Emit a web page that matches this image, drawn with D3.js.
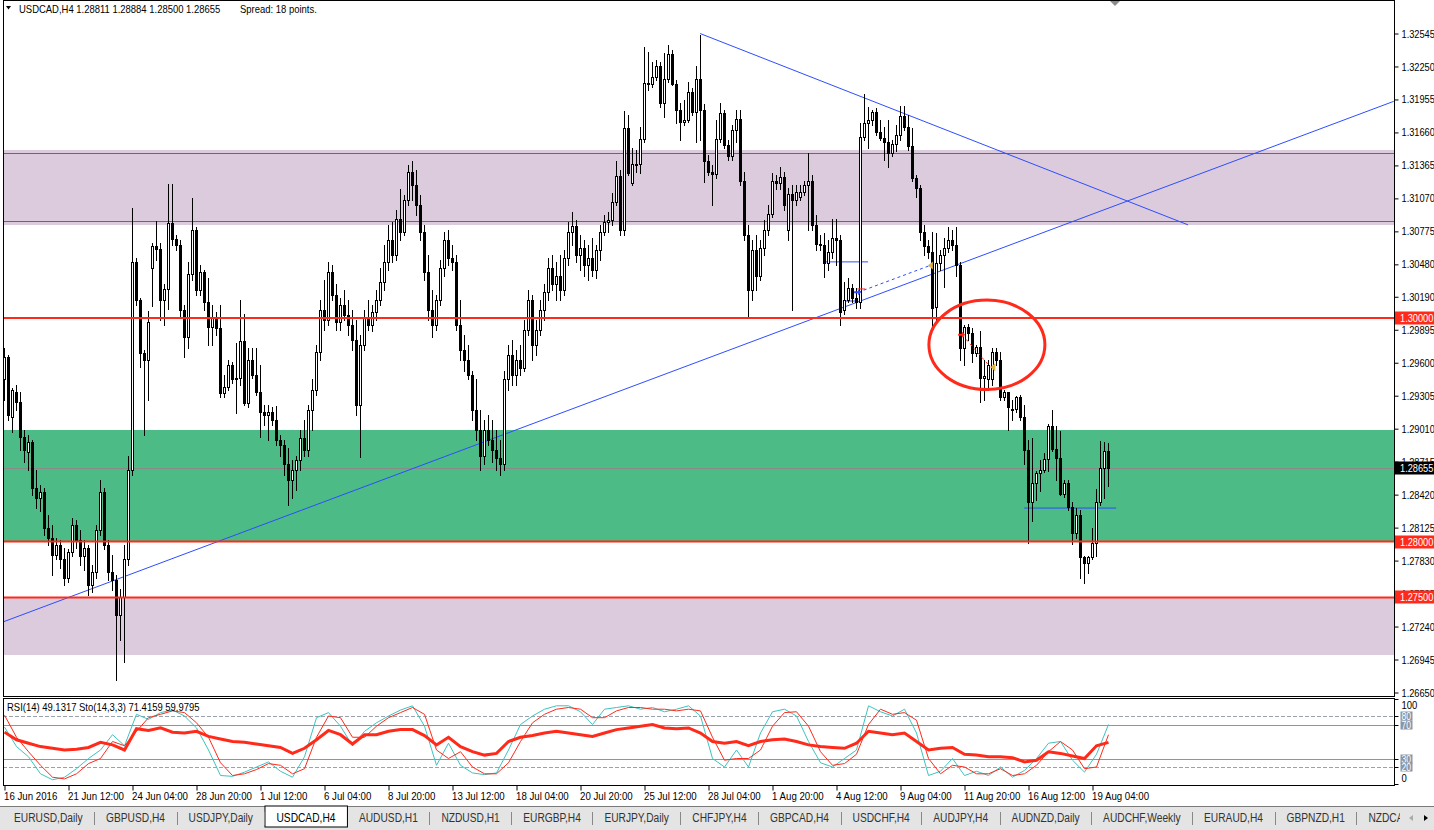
<!DOCTYPE html>
<html>
<head>
<meta charset="utf-8">
<script src="https://cdn.jsdelivr.net/npm/d3@7"></script>
<style>
html, body { margin: 0; padding: 0; background: #fff; overflow: hidden; }
svg { display: block; font-family: "Liberation Sans", Arial, sans-serif; }
</style>
</head>
<body>
<svg id="chart" width="1434" height="830"></svg>
<script>
// USDCAD H4 candles, 16 Jun 2016 20:00 .. 19 Aug 2016 20:00
const opens = [1.2945,1.2965,1.2911,1.2934,1.2925,1.2894,1.2880,1.2889,1.2848,1.2839,1.2844,1.2812,1.2803,1.2788,1.2797,1.2784,1.2767,1.2791,1.2815,1.2801,
1.2787,1.2794,1.2761,1.2773,1.2810,1.2844,1.2797,1.2773,1.2766,1.2734,1.2750,1.2784,1.2864,1.3050,1.3016,1.2969,1.2962,1.3045,1.3064,1.3062,
1.3016,1.3026,1.3085,1.3071,1.3065,1.3007,1.2983,1.3039,1.3079,1.3025,1.3041,1.3014,1.2992,1.3000,1.2991,1.2933,1.2938,1.2958,1.2945,1.2946,
1.2979,1.2924,1.2962,1.2949,1.2934,1.2916,1.2913,1.2916,1.2909,1.2891,1.2886,1.2869,1.2855,1.2864,1.2873,1.2893,1.2882,1.2918,1.2936,1.2970,
1.3007,1.2998,1.3041,1.3021,1.2996,1.3012,1.3003,1.2994,1.2980,1.2922,1.2976,1.3000,1.2994,1.3005,1.3016,1.3032,1.3050,1.3070,1.3056,1.3089,
1.3077,1.3106,1.3131,1.3119,1.3101,1.3077,1.3041,1.3007,1.2994,1.3016,1.3045,1.3070,1.3054,1.3050,1.2994,1.2971,1.2962,1.2949,1.2918,1.2900,
1.2877,1.2900,1.2891,1.2882,1.2875,1.2869,1.2945,1.2967,1.2949,1.2962,1.2955,1.2989,1.3016,1.2976,1.2989,1.3007,1.3023,1.3045,1.3030,1.3038,
1.3025,1.3054,1.3077,1.3082,1.3056,1.3063,1.3047,1.3054,1.3043,1.3061,1.3077,1.3086,1.3088,1.3104,1.3127,1.3079,1.3170,1.3121,1.3138,1.3138,
1.3160,1.3210,1.3209,1.3216,1.3225,1.3192,1.3214,1.3236,1.3209,1.3186,1.3175,1.3177,1.3202,1.3184,1.3214,1.3186,1.3140,1.3131,1.3129,1.3160,
1.3183,1.3155,1.3145,1.3168,1.3178,1.3123,1.3074,1.3025,1.3061,1.3038,1.3063,1.3079,1.3093,1.3123,1.3121,1.3126,1.3079,1.3111,1.3106,1.3108,
1.3113,1.3119,1.3123,1.3083,1.3066,1.3065,1.3049,1.3059,1.3072,1.3070,1.3007,1.3016,1.3027,1.3018,1.3014,1.3162,1.3174,1.3177,1.3184,1.3166,
1.3161,1.3157,1.3148,1.3156,1.3164,1.3181,1.3171,1.3154,1.3125,1.3116,1.3077,1.3064,1.3059,1.3010,1.3049,1.3056,1.3063,1.3070,1.3065,1.3047,
1.2973,1.2992,1.2987,1.2969,1.2974,1.2946,1.2945,1.2945,1.2970,1.2962,1.2929,1.2934,1.2918,1.2919,1.2929,1.2911,1.2882,1.2835,1.2852,1.2861,
1.2864,1.2874,1.2903,1.2883,1.2875,1.2843,1.2852,1.2831,1.2808,1.2824,1.2786,1.2781,1.2786,1.2799,1.2835,1.2866,1.28811];
const highs = [1.2973,1.2967,1.2937,1.2940,1.2934,1.2900,1.2895,1.2891,1.2864,1.2851,1.2848,1.2824,1.2815,1.2803,1.2801,1.2794,1.2793,1.2821,1.2819,1.2810,
1.2801,1.2797,1.2779,1.2815,1.2855,1.2848,1.2801,1.2788,1.2770,1.2758,1.2797,1.2877,1.3098,1.3054,1.3018,1.2971,1.3006,1.3067,1.3087,1.3067,
1.3030,1.3120,1.3120,1.3074,1.3070,1.3012,1.3050,1.3107,1.3081,1.3047,1.3043,1.3036,1.3012,1.3005,1.3012,1.2949,1.2962,1.2961,1.2978,1.3016,
1.3004,1.2973,1.2973,1.2973,1.2958,1.2922,1.2922,1.2920,1.2921,1.2895,1.2891,1.2884,1.2873,1.2877,1.2900,1.2909,1.2922,1.2945,1.2976,1.3016,
1.3034,1.3050,1.3047,1.3030,1.3018,1.3025,1.3016,1.3007,1.2998,1.2985,1.3007,1.3016,1.3012,1.3025,1.3045,1.3065,1.3083,1.3086,1.3097,1.3115,
1.3110,1.3137,1.3140,1.3132,1.3110,1.3083,1.3056,1.3025,1.3021,1.3052,1.3077,1.3079,1.3065,1.3056,1.3016,1.2985,1.2976,1.2953,1.2945,1.2918,
1.2909,1.2913,1.2909,1.2900,1.2891,1.2953,1.2976,1.2980,1.2971,1.2976,1.2998,1.3025,1.3021,1.2998,1.3016,1.3030,1.3054,1.3056,1.3050,1.3056,
1.3061,1.3086,1.3095,1.3088,1.3074,1.3070,1.3065,1.3072,1.3065,1.3083,1.3092,1.3095,1.3112,1.3140,1.3132,1.3185,1.3182,1.3152,1.3150,1.3171,
1.3242,1.3238,1.3229,1.3231,1.3229,1.3237,1.3244,1.3240,1.3213,1.3192,1.3195,1.3211,1.3206,1.3225,1.3253,1.3191,1.3146,1.3137,1.3177,1.3192,
1.3186,1.3159,1.3173,1.3186,1.3186,1.3131,1.3083,1.3070,1.3074,1.3070,1.3088,1.3101,1.3130,1.3128,1.3135,1.3131,1.3116,1.3119,1.3119,1.3119,
1.3123,1.3148,1.3128,1.3092,1.3074,1.3076,1.3070,1.3089,1.3089,1.3074,1.3032,1.3036,1.3030,1.3027,1.3174,1.3200,1.3189,1.3186,1.3188,1.3177,
1.3171,1.3177,1.3159,1.3173,1.3190,1.3190,1.3182,1.3170,1.3128,1.3119,1.3083,1.3070,1.3077,1.3076,1.3061,1.3072,1.3081,1.3079,1.3081,1.3050,
1.2994,1.2995,1.2991,1.2976,1.2988,1.2962,1.2962,1.2973,1.2973,1.2970,1.2936,1.2934,1.2927,1.2930,1.2931,1.2922,1.2891,1.2893,1.2863,1.2873,
1.2879,1.2905,1.2918,1.2903,1.2899,1.2855,1.2855,1.2835,1.2830,1.2828,1.2787,1.2787,1.2812,1.2847,1.2890,1.2889,1.28884];
const lows = [1.2927,1.2909,1.2898,1.2918,1.2882,1.2871,1.2864,1.2842,1.2830,1.2827,1.2806,1.2797,1.2770,1.2784,1.2776,1.2761,1.2764,1.2787,1.2794,1.2779,
1.2775,1.2752,1.2755,1.2767,1.2806,1.2793,1.2766,1.2757,1.2676,1.2712,1.2692,1.2779,1.2860,1.3012,1.2956,1.2895,1.2927,1.3011,1.3052,1.2998,
1.2994,1.3008,1.3065,1.3061,1.3001,1.2965,1.2973,1.3034,1.3021,1.3021,1.3007,1.2976,1.2976,1.2985,1.2929,1.2929,1.2936,1.2942,1.2915,1.2940,
1.2922,1.2920,1.2946,1.2931,1.2894,1.2904,1.2891,1.2904,1.2886,1.2877,1.2860,1.2833,1.2839,1.2846,1.2864,1.2877,1.2877,1.2900,1.2931,1.2962,
1.2989,1.2994,1.3016,1.2989,1.2989,1.2998,1.2985,1.2971,1.2913,1.2876,1.2971,1.2989,1.2988,1.2998,1.3012,1.3025,1.3043,1.3050,1.3052,1.3070,
1.3074,1.3101,1.3106,1.3092,1.3070,1.3034,1.2998,1.2983,1.2989,1.3012,1.3038,1.3047,1.3043,1.2989,1.2962,1.2953,1.2945,1.2909,1.2891,1.2864,
1.2869,1.2886,1.2871,1.2864,1.2860,1.2864,1.2936,1.2940,1.2940,1.2949,1.2953,1.2985,1.2962,1.2967,1.2985,1.2998,1.3016,1.3025,1.3016,1.3016,
1.3021,1.3047,1.3065,1.3050,1.3043,1.3038,1.3034,1.3038,1.3036,1.3052,1.3074,1.3077,1.3083,1.3101,1.3074,1.3074,1.3128,1.3119,1.3131,1.3130,
1.3157,1.3204,1.3207,1.3213,1.3189,1.3180,1.3211,1.3208,1.3174,1.3159,1.3173,1.3175,1.3182,1.3157,1.3159,1.3122,1.3128,1.3101,1.3125,1.3157,
1.3152,1.3141,1.3141,1.3157,1.3119,1.3070,1.3001,1.3016,1.3025,1.3034,1.3056,1.3074,1.3090,1.3115,1.3115,1.3097,1.3070,1.3007,1.3101,1.3106,
1.3110,1.3079,1.3079,1.3061,1.3061,1.3037,1.3043,1.3054,1.3047,1.2994,1.3004,1.3014,1.3014,1.3009,1.3009,1.3159,1.3152,1.3173,1.3164,1.3159,
1.3141,1.3135,1.3145,1.3149,1.3159,1.3168,1.3150,1.3123,1.3108,1.3070,1.3056,1.3054,1.2989,1.2998,1.3043,1.3028,1.3059,1.3061,1.3038,1.2962,
1.2958,1.2980,1.2961,1.2966,1.2925,1.2927,1.2936,1.2940,1.2958,1.2927,1.2927,1.2900,1.2909,1.2916,1.2909,1.2869,1.2799,1.2818,1.2837,1.2845,
1.2862,1.2863,1.2881,1.2855,1.2842,1.2840,1.2828,1.2798,1.2803,1.2767,1.2763,1.2772,1.2784,1.2787,1.2833,1.2839,1.28500];
const closes = [1.2965,1.2913,1.2936,1.2925,1.2894,1.2882,1.2889,1.2848,1.2839,1.2844,1.2812,1.2803,1.2788,1.2797,1.2784,1.2767,1.2791,1.2815,1.2801,1.2787,
1.2794,1.2761,1.2773,1.2810,1.2844,1.2797,1.2773,1.2766,1.2734,1.2750,1.2784,1.2864,1.3050,1.3016,1.2969,1.2962,1.2996,1.3064,1.3062,1.3016,
1.3026,1.3085,1.3071,1.3065,1.3007,1.2983,1.3039,1.3079,1.3025,1.3041,1.3014,1.2992,1.3000,1.2991,1.2933,1.2938,1.2958,1.2945,1.2946,1.2979,
1.2924,1.2962,1.2949,1.2934,1.2916,1.2913,1.2916,1.2909,1.2891,1.2886,1.2869,1.2855,1.2864,1.2873,1.2893,1.2882,1.2918,1.2936,1.2970,1.3007,
1.2998,1.3041,1.3021,1.2996,1.3012,1.3003,1.2994,1.2980,1.2922,1.2976,1.3000,1.2994,1.3005,1.3016,1.3032,1.3050,1.3070,1.3056,1.3089,1.3077,
1.3106,1.3131,1.3119,1.3101,1.3077,1.3041,1.3007,1.2994,1.3016,1.3045,1.3070,1.3054,1.3050,1.2994,1.2971,1.2962,1.2949,1.2918,1.2900,1.2877,
1.2900,1.2891,1.2882,1.2875,1.2869,1.2945,1.2967,1.2949,1.2962,1.2955,1.2989,1.3016,1.2976,1.2989,1.3007,1.3023,1.3045,1.3030,1.3038,1.3025,
1.3054,1.3077,1.3082,1.3056,1.3063,1.3047,1.3054,1.3043,1.3061,1.3077,1.3086,1.3088,1.3104,1.3127,1.3079,1.3170,1.3130,1.3138,1.3137,1.3160,
1.3210,1.3209,1.3216,1.3225,1.3192,1.3214,1.3236,1.3209,1.3186,1.3175,1.3177,1.3202,1.3184,1.3214,1.3186,1.3140,1.3131,1.3129,1.3160,1.3183,
1.3155,1.3145,1.3168,1.3178,1.3123,1.3074,1.3025,1.3061,1.3038,1.3063,1.3079,1.3093,1.3123,1.3121,1.3126,1.3101,1.3111,1.3106,1.3113,1.3113,
1.3119,1.3123,1.3083,1.3066,1.3065,1.3049,1.3059,1.3072,1.3070,1.3005,1.3016,1.3027,1.3018,1.3014,1.3162,1.3174,1.3177,1.3184,1.3166,1.3161,
1.3157,1.3148,1.3156,1.3164,1.3181,1.3171,1.3154,1.3125,1.3116,1.3077,1.3064,1.3059,1.3009,1.3049,1.3056,1.3063,1.3070,1.3065,1.3047,1.2973,
1.2992,1.2987,1.2969,1.2974,1.2946,1.2948,1.2958,1.2970,1.2962,1.2929,1.2934,1.2920,1.2919,1.2929,1.2911,1.2882,1.2835,1.2852,1.2861,1.2864,
1.2874,1.2903,1.2883,1.2875,1.2843,1.2852,1.2831,1.2808,1.2824,1.2786,1.2781,1.2786,1.2799,1.2835,1.2866,1.2881,1.28655];

// indicator readings, one every 3 bars
const indStep = 3;
const rsi = [61,52,48,44,42,40,41,43,49,46,40,65,63,66,61,60,62,56,53,50,49,47,45,43,36,42,52,63,58,47,58,58,62,64,64,57,46,55,44,38,34,36,
50,55,57,60,62,60,58,56,60,64,66,68,70,66,65,66,60,50,48,50,45,50,52,53,50,46,44,43,42,48,62,60,58,60,50,40,42,43,35,34,32,
32,31,26,28,38,36,33,30,45,49];
const stoMain = [67,44,32,12,5,8,18,30,40,58,45,82,76,84,87,80,66,40,10,9,14,20,26,15,8,32,78,84,68,45,62,72,80,87,92,68,22,48,22,13,11,13,
40,70,80,88,92,92,85,70,88,90,92,88,90,85,88,92,80,30,20,40,20,60,85,88,80,50,25,20,30,40,92,85,80,88,60,10,15,30,10,15,10,
20,8,16,30,48,50,28,14,35,70];
const stoSignal = [81,55,38,22,8,6,12,24,30,50,45,62,78,82,86,84,72,55,25,10,12,17,24,22,12,18,55,80,78,55,55,68,78,84,90,82,40,30,38,20,12,12,
25,50,72,82,88,90,88,78,78,86,90,90,88,88,86,88,86,55,28,30,30,40,68,84,85,68,38,22,24,35,70,88,82,84,75,30,12,22,20,12,12,
18,10,12,22,38,50,40,18,20,58];

const priceLabels = ["1.32545","1.32250","1.31955","1.31660","1.31365","1.31070","1.30775","1.30480","1.30190","1.29895","1.29600",
  "1.29305","1.29010","1.28715","1.28420","1.28125","1.27830","1.27535","1.27240","1.26945","1.26650"];
const dateLabels = ["16 Jun 2016","21 Jun 12:00","24 Jun 04:00","28 Jun 20:00","1 Jul 12:00","6 Jul 04:00","8 Jul 20:00","13 Jul 12:00",
  "18 Jul 04:00","20 Jul 20:00","25 Jul 12:00","28 Jul 04:00","1 Aug 20:00","4 Aug 12:00","9 Aug 04:00","11 Aug 20:00","16 Aug 12:00","19 Aug 04:00"];
const dateEvery = 16;

const levels = [1.30000, 1.28000, 1.27500];
const bidPrice = 1.28655;
const zones = [
  {from: 1.31503, to: 1.30832, fill: "#dccbdd"},
  {from: 1.28998, to: 1.28000, fill: "#4cbb86"},
  {from: 1.27496, to: 1.26985, fill: "#dccbdd"}
];
const zoneEdges = [1.31476, 1.30868];
// trend lines as [bar, price] pairs
const trendLines = [
  {a: [-0.3, 1.27282], b: [347.3, 1.31938]},
  {a: [173.9, 1.32545], b: [295.9, 1.30833]}
];
const shortLines = [
  {a: [205.1, 1.30502], b: [215.9, 1.30502]},
  {a: [209.6, 1.30152], b: [213.4, 1.30152]},
  {a: [254.9, 1.28300], b: [277.9, 1.28300]}
];
const tabs = ["EURUSD,Daily","GBPUSD,H4","USDJPY,Daily","USDCAD,H4","AUDUSD,H1","NZDUSD,H1","EURGBP,H4","EURJPY,Daily","CHFJPY,H4",
  "GBPCAD,H4","USDCHF,H4","AUDJPY,H4","AUDNZD,Daily","AUDCHF,Weekly","EURAUD,H4","GBPNZD,H1","NZDCAD,Daily"];
const activeTab = "USDCAD,H4";

const svg = d3.select("#chart");
const plotL = 3, plotR = 1394, mainBot = 696, indTop = 698, indBot = 785;
const red = "#ff2a1a";

// the terminal font is narrow: squeeze Liberation Sans horizontally
function squeeze(sel, f) {
  sel.each(function () {
    const w = this.getComputedTextLength();
    d3.select(this).attr("textLength", w * f).attr("lengthAdjust", "spacingAndGlyphs");
  });
  return sel;
}

const n = closes.length;
const x = d3.scaleLinear().domain([0, n - 1]).range([4.5, 4.5 + 4 * (n - 1)]);
const y = d3.scaleLinear().domain([1.32545, 1.26650]).range([33.5, 692.5]);
const yi = d3.scaleLinear().domain([0, 100]).range([784, 699]);
const ry = v => Math.round(y(v));

svg.append("rect").attr("width", 1434).attr("height", 830).attr("fill", "#fff");

const defs = svg.append("defs");
defs.append("clipPath").attr("id", "mainClip").append("rect")
  .attr("x", plotL + 1).attr("y", 1).attr("width", plotR - plotL - 1).attr("height", mainBot - 1);
defs.append("clipPath").attr("id", "indClip").append("rect")
  .attr("x", plotL + 1).attr("y", indTop + 1).attr("width", plotR - plotL - 1).attr("height", indBot - indTop - 1);
defs.append("clipPath").attr("id", "tabClip").append("rect")
  .attr("x", 0).attr("y", 800).attr("width", 1400).attr("height", 30);

const main = svg.append("g").attr("clip-path", "url(#mainClip)");

// zones
main.selectAll("rect.zone").data(zones).enter().append("rect")
  .attr("class", "zone")
  .attr("x", plotL).attr("width", plotR - plotL)
  .attr("y", d => ry(d.from)).attr("height", d => ry(d.to) - ry(d.from))
  .attr("fill", d => d.fill);

main.selectAll("line.edge").data(zoneEdges).enter().append("line")
  .attr("x1", plotL).attr("x2", plotR)
  .attr("y1", d => ry(d) + 0.5).attr("y2", d => ry(d) + 0.5)
  .attr("stroke", "#4a62e0").attr("stroke-width", 1);

// bid line
main.append("line")
  .attr("x1", plotL).attr("x2", plotR)
  .attr("y1", ry(bidPrice) + 0.5).attr("y2", ry(bidPrice) + 0.5)
  .attr("stroke", "#8a8a8a").attr("stroke-width", 1);

// trend lines
main.selectAll("line.trend").data(trendLines.concat(shortLines)).enter().append("line")
  .attr("x1", d => x(d.a[0])).attr("y1", d => y(d.a[1]))
  .attr("x2", d => x(d.b[0])).attr("y2", d => y(d.b[1]))
  .attr("stroke", "#2d4dff").attr("stroke-width", 1);

// candles
const bars = d3.range(n);
const cg = main.append("g");
cg.selectAll("line.wick").data(bars).enter().append("line")
  .attr("x1", i => x(i)).attr("x2", i => x(i))
  .attr("y1", i => ry(highs[i])).attr("y2", i => ry(lows[i]) + 1)
  .attr("stroke", "#000").attr("stroke-width", 1);

cg.selectAll("rect.bear").data(bars.filter(i => closes[i] <= opens[i])).enter().append("rect")
  .attr("x", i => x(i) - 1.5).attr("width", 3)
  .attr("y", i => ry(opens[i]))
  .attr("height", i => Math.max(1, ry(closes[i]) - ry(opens[i]) + 1))
  .attr("fill", "#000");

cg.selectAll("rect.bull").data(bars.filter(i => closes[i] > opens[i])).enter().append("rect")
  .attr("x", i => x(i) - 1).attr("width", 2)
  .attr("y", i => ry(closes[i]) + 0.5)
  .attr("height", i => Math.max(1, ry(opens[i]) - ry(closes[i])))
  .attr("fill", "#fff").attr("stroke", "#000").attr("stroke-width", 1);

// horizontal levels
main.selectAll("line.level").data(levels).enter().append("line")
  .attr("x1", plotL).attr("x2", plotR)
  .attr("y1", d => y(d)).attr("y2", d => y(d))
  .attr("stroke", red).attr("stroke-width", 2);

// trade arrows
main.append("line")
  .attr("x1", x(213.4)).attr("y1", y(1.3023)).attr("x2", x(231.4)).attr("y2", y(1.3047))
  .attr("stroke", "#2d4dff").attr("stroke-dasharray", "3,3");
main.append("line")
  .attr("x1", x(239.4)).attr("y1", y(1.2985)).attr("x2", x(246.5)).attr("y2", y(1.2956))
  .attr("stroke", red).attr("stroke-dasharray", "3,3");
main.append("path")
  .attr("transform", `translate(${x(213.4)},${y(1.3023)})`)
  .attr("d", "M-4,-1H0V-3L3,0L0,3V1H-4Z").attr("fill", "#2d4dff");
main.append("path")
  .attr("transform", `translate(${x(239.4)},${y(1.2985)})`)
  .attr("d", "M-4,-1H0V-3L3,0L0,3V1H-4Z").attr("fill", red);
main.append("line")
  .attr("x1", x(213.2)).attr("x2", x(215.2)).attr("y1", y(1.3026)).attr("y2", y(1.3026))
  .attr("stroke", red);
main.selectAll("path.close").data([[231.6, 1.3047], [247.2, 1.2956]]).enter().append("path")
  .attr("transform", d => `translate(${x(d[0])},${y(d[1])})`)
  .attr("d", "M-3,0L2,-4V4Z").attr("fill", "#e0b040");

// ellipse
main.append("ellipse")
  .attr("cx", x(245.6)).attr("cy", y(1.2976))
  .attr("rx", x(14.5) - x(0)).attr("ry", y(1.2976) - y(1.3016))
  .attr("fill", "none").attr("stroke", red).attr("stroke-width", 3);

// frames
svg.append("rect").attr("x", plotL + 0.5).attr("y", 0.5).attr("width", plotR - plotL).attr("height", mainBot)
  .attr("fill", "none").attr("stroke", "#000");
svg.append("rect").attr("x", plotL + 0.5).attr("y", indTop + 0.5).attr("width", plotR - plotL).attr("height", indBot - indTop)
  .attr("fill", "none").attr("stroke", "#000");

// chart shift marker
svg.append("path").attr("d", "M1110,1L1120,1L1115,6Z").attr("fill", "#8c8c8c");

// header
svg.append("path").attr("d", "M6,6L11,6L8.5,9.5Z").attr("fill", "#000");
const last = n - 1;
squeeze(svg.append("text").attr("x", 19).attr("y", 13).attr("font-size", 11).attr("fill", "#000")
  .text(`USDCAD,H4  ${opens[last].toFixed(5)} ${highs[last].toFixed(5)} ${lows[last].toFixed(5)} ${closes[last].toFixed(5)}`), 0.86);
squeeze(svg.append("text").attr("x", 240).attr("y", 13).attr("font-size", 11).attr("fill", "#000")
  .text("Spread: 18 points."), 0.86);

// price axis
const yAxis = d3.axisRight(y)
  .tickValues(priceLabels.map(Number))
  .tickFormat((d, i) => priceLabels[i])
  .tickSize(4).tickPadding(3);
const ya = svg.append("g").attr("transform", `translate(${plotR + 0.5},0)`).call(yAxis);
ya.select(".domain").remove();
squeeze(ya.selectAll("text").attr("font-size", 11).attr("font-family", null).attr("fill", "#000"), 0.84);
ya.selectAll("line").attr("stroke", "#000");

function priceTag(p, bg) {
  const g = svg.append("g").attr("transform", `translate(${plotR + 1},${ry(p)})`);
  g.append("rect").attr("x", 0).attr("y", -6.5).attr("width", 39).attr("height", 13).attr("fill", bg);
  squeeze(g.append("text").attr("x", 5).attr("y", 4).attr("font-size", 11).attr("fill", "#fff").text(p.toFixed(5)), 0.84);
}
levels.forEach(p => priceTag(p, red));
priceTag(bidPrice, "#000");

// indicator pane
const ind = svg.append("g").attr("clip-path", "url(#indClip)");
[80, 20].forEach(v => ind.append("line")
  .attr("x1", plotL).attr("x2", plotR).attr("y1", Math.round(yi(v)) + 0.5).attr("y2", Math.round(yi(v)) + 0.5)
  .attr("stroke", "#9aa3ad").attr("stroke-dasharray", "4,2"));
[70, 30].forEach(v => ind.append("line")
  .attr("x1", plotL).attr("x2", plotR).attr("y1", Math.round(yi(v)) + 0.5).attr("y2", Math.round(yi(v)) + 0.5)
  .attr("stroke", "#8796a8"));

const indLine = d3.line().x((d, k) => x(k * indStep)).y(d => yi(d));
ind.append("path").datum(stoMain).attr("d", indLine).attr("fill", "none").attr("stroke", "#3cc4c0").attr("stroke-width", 1);
ind.append("path").datum(stoSignal).attr("d", indLine).attr("fill", "none").attr("stroke", red).attr("stroke-width", 1);
ind.append("path").datum(rsi).attr("d", indLine).attr("fill", "none").attr("stroke", red).attr("stroke-width", 3);

squeeze(svg.append("text").attr("x", 7).attr("y", 711).attr("font-size", 11).attr("fill", "#000")
  .text("RSI(14) 49.1317  Sto(14,3,3) 71.4159  59.9795"), 0.86);

// indicator scale
const indTicks = [100, 80, 70, 30, 20, 0];
const ig = svg.append("g").attr("transform", `translate(${plotR + 0.5},0)`);
indTicks.forEach(v => {
  const yy = Math.round(yi(v));
  ig.append("line").attr("x1", 0).attr("x2", 4).attr("y1", yy + 0.5).attr("y2", yy + 0.5).attr("stroke", "#000");
  const ty = v === 100 ? yy + 6 : v === 0 ? yy - 6 : yy;
  if (v !== 100 && v !== 0) {
    ig.append("rect").attr("x", 6).attr("y", ty - 4.5).attr("width", 12).attr("height", 9).attr("fill", "#8796a8");
  }
  squeeze(ig.append("text").attr("x", 7).attr("y", ty + 3.5).attr("font-size", v === 100 || v === 0 ? 11 : 10)
    .attr("fill", v === 100 || v === 0 ? "#000" : "#fff").text(v), 0.86);
});

// time axis
const xAxis = d3.axisBottom(x)
  .tickValues(dateLabels.map((d, i) => i * dateEvery))
  .tickFormat((d, i) => dateLabels[i])
  .tickSize(5).tickPadding(2);
const xa = svg.append("g").attr("transform", `translate(0,${indBot + 0.5})`).call(xAxis);
xa.select(".domain").remove();
xa.selectAll("line").attr("stroke", "#000");
squeeze(xa.selectAll("text").attr("font-size", 11).attr("font-family", null).attr("fill", "#000")
  .attr("text-anchor", "start").attr("x", -1), 0.88);

// tab bar
const tb = svg.append("g");
tb.append("rect").attr("x", 0).attr("y", 806).attr("width", 1434).attr("height", 24).attr("fill", "#e4e4e4");
tb.append("line").attr("x1", 0).attr("x2", 1434).attr("y1", 806.5).attr("y2", 806.5).attr("stroke", "#7a7a7a");
const tt = tb.append("g").attr("clip-path", "url(#tabClip)");
let tx = 2;
tabs.forEach(name => {
  const t = tt.append("text").attr("x", tx + 12).attr("y", 822).attr("font-size", 12).attr("fill", "#333").text(name);
  const w = t.node().getComputedTextLength() * 0.85;
  t.attr("textLength", w).attr("lengthAdjust", "spacingAndGlyphs");
  const end = tx + 12 + w + 11.5;
  if (name === activeTab) {
    tt.insert("rect", "text").attr("x", tx + 0.5).attr("y", 806).attr("width", end - tx).attr("height", 21)
      .attr("fill", "#fff").attr("stroke", "#000");
    t.attr("fill", "#000");
  } else {
    tt.append("line").attr("x1", Math.round(end) + 0.5).attr("x2", Math.round(end) + 0.5)
      .attr("y1", 812).attr("y2", 825).attr("stroke", "#888");
  }
  tx = end;
});
tb.append("path").attr("d", "M1409,818L1413,815V821Z").attr("fill", "#aaa");
tb.append("path").attr("d", "M1428,818L1424,815V821Z").attr("fill", "#000");
</script>
</body>
</html>
